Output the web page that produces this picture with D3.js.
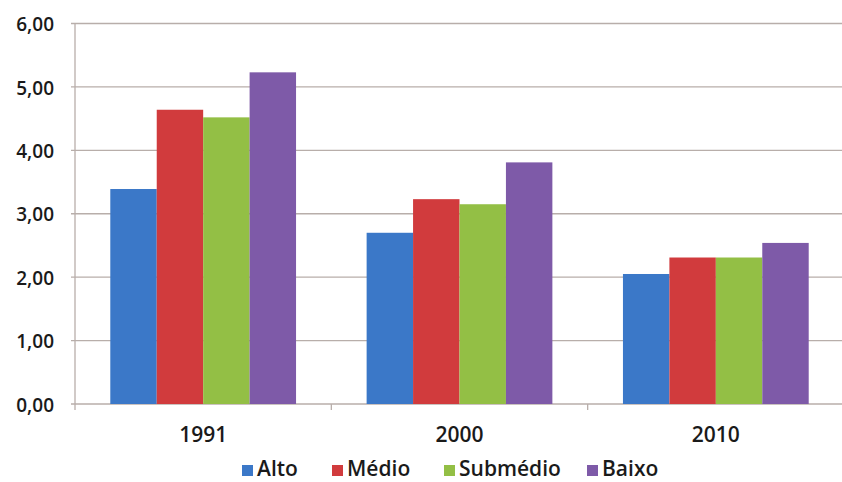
<!DOCTYPE html>
<html lang="pt">
  <head>
    <meta charset="UTF-8" />
    <title>Gráfico</title>
    <style>
      body { margin: 0; background: #fff; }
      text { font-family: "Open Sans", sans-serif; fill: #1a1a1a; }
    </style>
  </head>
  <body>
    <svg width="842" height="482"></svg>
    <script src="https://cdnjs.cloudflare.com/ajax/libs/d3/7.8.5/d3.min.js"></script>
    <script>
      var years = ["1991", "2000", "2010"];
      var series = ["Alto", "Médio", "Submédio", "Baixo"];
      var alto = [3.39, 2.7, 2.05];
      var medio = [4.64, 3.23, 2.31];
      var submedio = [4.52, 3.15, 2.31];
      var baixo = [5.23, 3.81, 2.54];
      var yTicks = [0, 1, 2, 3, 4, 5, 6];
      var colors = ["#3b78c8", "#d13b3d", "#93bf45", "#7e5aa8"];

      var values = [alto, medio, submedio, baixo];

      var svg = d3.select("svg");
      var plotLeft = 75, plotRight = 844, plotTop = 23.5, plotBottom = 404;
      var gridColor = "#b8aeaa";

      var x = d3.scaleBand().domain(years).range([plotLeft, plotRight]).paddingInner(0).paddingOuter(0);
      var xs = d3.scaleBand().domain(series).range([0, x.bandwidth()]).paddingInner(0).paddingOuter(0.76);
      var y = d3.scaleLinear().domain([0, 6]).range([plotBottom, plotTop]);

      // grid lines
      svg.append("g")
        .selectAll("line")
        .data(yTicks)
        .enter()
        .append("line")
        .attr("x1", plotLeft - 4)
        .attr("x2", plotRight)
        .attr("y1", function (d) { return y(d); })
        .attr("y2", function (d) { return y(d); })
        .attr("stroke", gridColor)
        .attr("stroke-width", 1.3);

      // bars
      var groups = svg.append("g")
        .selectAll("g")
        .data(years)
        .enter()
        .append("g")
        .attr("transform", function (d) { return "translate(" + x(d) + ",0)"; });

      groups.selectAll("rect")
        .data(function (d, i) {
          return series.map(function (s, j) { return { s: s, v: values[j][i], c: colors[j] }; });
        })
        .enter()
        .append("rect")
        .attr("x", function (d) { return xs(d.s); })
        .attr("width", xs.bandwidth())
        .attr("y", function (d) { return y(d.v); })
        .attr("height", function (d) { return plotBottom - y(d.v); })
        .attr("fill", function (d) { return d.c; });

      // axis lines
      svg.append("line")
        .attr("x1", plotLeft).attr("x2", plotLeft)
        .attr("y1", plotTop).attr("y2", plotBottom)
        .attr("stroke", gridColor).attr("stroke-width", 1.3);

      svg.append("g")
        .selectAll("line")
        .data(years.concat(["end"]))
        .enter()
        .append("line")
        .attr("x1", function (d, i) { return plotLeft + i * x.bandwidth(); })
        .attr("x2", function (d, i) { return plotLeft + i * x.bandwidth(); })
        .attr("y1", plotBottom)
        .attr("y2", plotBottom + 6)
        .attr("stroke", gridColor).attr("stroke-width", 1.3);

      // y labels
      svg.append("g")
        .selectAll("text")
        .data(yTicks)
        .enter()
        .append("text")
        .attr("x", 54)
        .attr("y", function (d) { return y(d); })
        .attr("dy", "0.4em")
        .attr("text-anchor", "end")
        .attr("font-size", 19)
        .attr("font-weight", 600)
        .text(function (d) { return d3.format(".2f")(d).replace(".", ","); });

      // x labels
      svg.append("g")
        .selectAll("text")
        .data(years)
        .enter()
        .append("text")
        .attr("x", function (d) { return x(d) + x.bandwidth() / 2; })
        .attr("y", 442)
        .attr("text-anchor", "middle")
        .attr("font-size", 21)
        .attr("font-weight", 600)
        .text(function (d) { return d; });

      // legend
      var legendX = [242, 332, 444, 587];
      var legend = svg.append("g")
        .selectAll("g")
        .data(series)
        .enter()
        .append("g")
        .attr("transform", function (d, i) { return "translate(" + legendX[i] + ",0)"; });

      legend.append("rect")
        .attr("x", 0)
        .attr("y", 465)
        .attr("width", 11)
        .attr("height", 11)
        .attr("fill", function (d, i) { return colors[i]; });

      legend.append("text")
        .attr("x", 15)
        .attr("y", 476)
        .attr("font-size", 21)
        .attr("font-weight", 600)
        .text(function (d) { return d; });
    </script>
  </body>
</html>
